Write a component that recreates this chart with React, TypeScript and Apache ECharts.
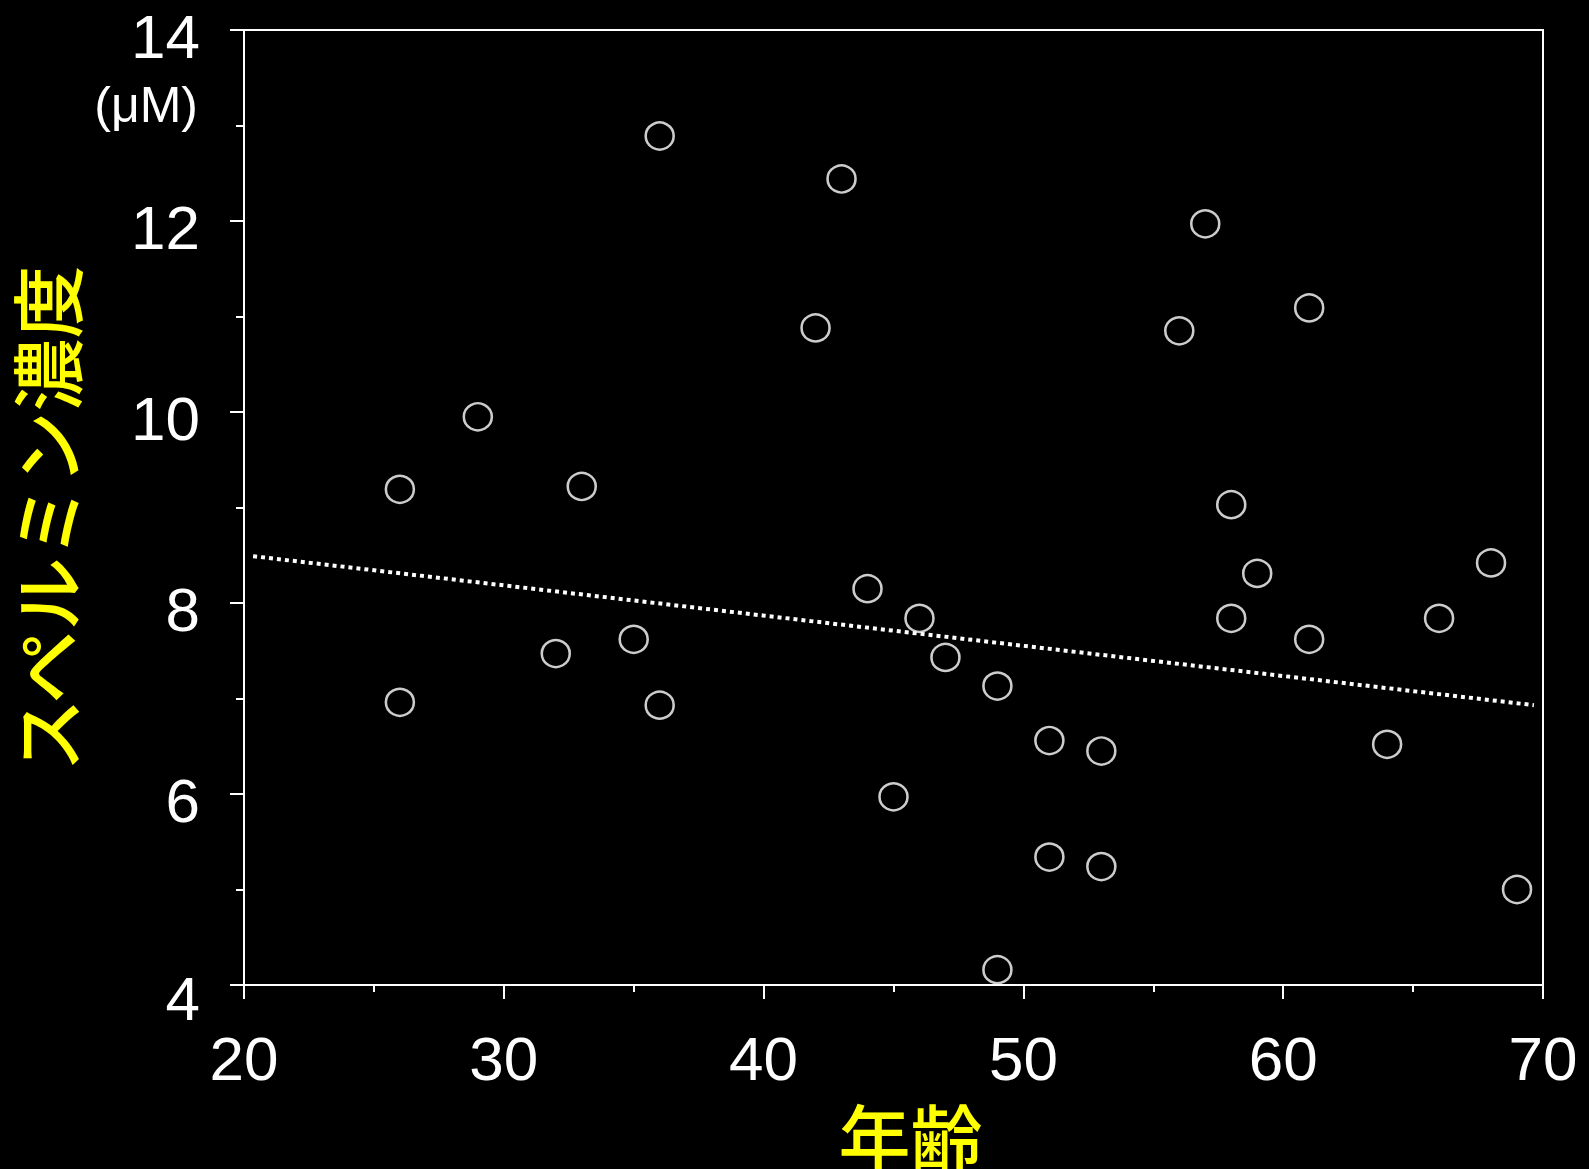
import React, { useEffect, useRef } from "react";
import * as echarts from "echarts";

// Data
const ages: number[] = [26, 26, 29, 32, 33, 35, 36, 36, 42, 43, 44, 45, 46, 47, 49, 49, 51, 51, 53, 53, 56, 57, 58, 58, 59, 61, 61, 64, 66, 68, 69];
const spermine: number[] = [9.19, 6.96, 9.95, 7.47, 9.22, 7.62, 12.89, 6.93, 10.88, 12.44, 8.15, 5.97, 7.84, 7.43, 7.13, 4.16, 6.56, 5.34, 6.45, 5.24, 10.85, 11.97, 9.03, 7.84, 8.31, 11.09, 7.62, 6.52, 7.84, 8.42, 5.0];
const trendX: number[] = [20.35, 69.65];
const trendY: number[] = [8.49, 6.93];
const xTicks = { min: 20, max: 70, interval: 10 };
const yTicks = { min: 4, max: 14, interval: 2 };
const xName = "年齢";
const yName = "スペルミン濃度";
const unitLabel = "(μM)";

export default function App() {
  const ref = useRef<HTMLDivElement>(null);
  useEffect(() => {
    document.body.style.margin = "0";
    document.body.style.background = "#000";
    if (!ref.current) return;
    const chart = echarts.init(ref.current, null, { renderer: "svg" });
    const white = "#ffffff";
    const yellow = "#ffff00";
    const numFont = "'Liberation Sans', Arial, sans-serif";
    const cjkFont = "'Noto Sans CJK JP', sans-serif";
    const axisCommon = {
      axisLine: { show: true, lineStyle: { color: white, width: 2 } },
      axisTick: { show: true, inside: false, length: 14, lineStyle: { color: white, width: 2 } },
      minorTick: { show: true, splitNumber: 2, length: 7, lineStyle: { color: white, width: 2 } },
      splitLine: { show: false },
      minorSplitLine: { show: false },
    };
    chart.setOption({
      animation: false,
      backgroundColor: "#000000",
      grid: {
        left: 244,
        right: 46,
        top: 30,
        bottom: 184,
        outerBoundsMode: "none",
        containLabel: false,
        show: true,
        borderColor: white,
        borderWidth: 2,
        backgroundColor: "transparent",
      },
      xAxis: {
        type: "value",
        ...xTicks,
        ...axisCommon,
        axisLabel: { color: white, fontSize: 62, fontFamily: numFont, margin: 42 },
        name: xName,
        nameLocation: "middle",
        nameGap: 112,
        nameTextStyle: {
          color: yellow,
          fontSize: 72,
          fontFamily: cjkFont,
          fontWeight: 500,
          padding: [0, 0, 0, 34],
        },
      },
      yAxis: {
        type: "value",
        ...yTicks,
        ...axisCommon,
        minorTick: { show: true, splitNumber: 2, length: 8, lineStyle: { color: white, width: 2 } },
        axisLabel: {
          color: white,
          fontSize: 62,
          fontFamily: numFont,
          margin: 44,
          formatter: (v: number) => (v === 4 ? "{b|4}" : "{a|" + v + "}"),
          rich: {
            a: { color: white, fontSize: 62, fontFamily: numFont, padding: [12, 0, 0, 0] },
            b: { color: white, fontSize: 62, fontFamily: numFont, padding: [26, 0, 0, 0] },
          },
        },
        name: yName,
        nameLocation: "middle",
        nameGap: 164,
        nameRotate: 90,
        nameTextStyle: {
          color: yellow,
          fontSize: 73,
          fontFamily: cjkFont,
          fontWeight: 500,
          lineHeight: 73,
          padding: [0, 22, 0, 0],
        },
      },
      graphic: [
        {
          type: "text",
          right: 1589 - 198,
          top: 80,
          style: {
            text: unitLabel,
            fill: white,
            fontSize: 50,
            fontFamily: numFont,
          },
        },
      ],
      series: [
        {
          type: "line",
          data: trendX.map((x, i) => [x, trendY[i]]),
          symbol: "none",
          lineStyle: { color: white, width: 4, type: [4, 4] },
          z: 2,
        },
        {
          type: "scatter",
          data: ages.map((a, i) => [a, spermine[i]]),
          symbol: "circle",
          symbolSize: [28, 27],
          itemStyle: { color: "rgba(0,0,0,0)", borderColor: white, borderWidth: 2.5 },
          z: 3,
        },
      ],
    });
    return () => chart.dispose();
  }, []);
  return <div ref={ref} style={{ width: 1589, height: 1169, background: "#000" }} />;
}
